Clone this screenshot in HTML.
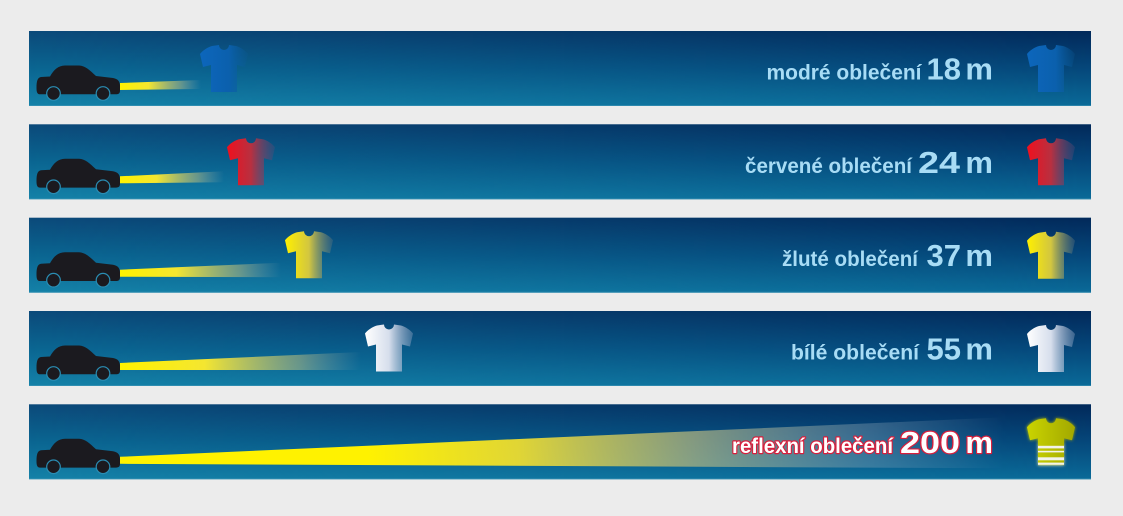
<!DOCTYPE html>
<html><head><meta charset="utf-8"><style>
html,body{margin:0;padding:0;background:#ececec;}
svg{display:block;}
text{font-family:"Liberation Sans",sans-serif;font-weight:bold;}
</style></head><body>
<svg width="1123" height="516" viewBox="0 0 1123 516" xmlns="http://www.w3.org/2000/svg">
<defs>
  <linearGradient id="bgL" x1="0" y1="0" x2="0" y2="1">
    <stop offset="0" stop-color="#0c4a7a"/>
    <stop offset="0.5" stop-color="#0b6692"/>
    <stop offset="1" stop-color="#1582a8"/>
  </linearGradient>
  <linearGradient id="bgR" x1="0" y1="0" x2="0" y2="1">
    <stop offset="0" stop-color="#02295a"/>
    <stop offset="0.5" stop-color="#05477a"/>
    <stop offset="1" stop-color="#0a6a98"/>
  </linearGradient>
  <linearGradient id="mk" x1="0" y1="0" x2="1" y2="0">
    <stop offset="0" stop-color="#fff" stop-opacity="0"/>
    <stop offset="1" stop-color="#fff" stop-opacity="1"/>
  </linearGradient>
  <mask id="hm" maskContentUnits="objectBoundingBox">
    <rect x="0" y="0" width="1" height="1" fill="url(#mk)"/>
  </mask>
  <g id="band">
    <rect x="0" y="0" width="1062" height="75" fill="url(#bgL)"/>
    <rect x="0" y="0" width="1062" height="75" fill="url(#bgR)" mask="url(#hm)"/>
    <rect x="0" y="74" width="1062" height="1" fill="#4a9cbc" opacity="0.5"/>
  </g>
  <g id="car">
    <path d="M7.5,57 C7.5,50 8.5,46.5 12,46 L21,45.5 C25,38.5 29,34.7 36,34.5 L50,34.5 C56,34.8 60,38.5 67,45 L84,47 C89.5,48 91,51 91,55 L91,59.5 C91,62 90,63.3 87,63.3 L11,63.3 C8.5,63.3 7.5,61.5 7.5,57 Z" fill="#1b1a1f"/>
    <circle cx="24.5" cy="62.5" r="6.8" fill="#1b1a1f" stroke="#2a8db3" stroke-width="1.2"/>
    <circle cx="74" cy="62.5" r="6.8" fill="#1b1a1f" stroke="#2a8db3" stroke-width="1.2"/>
  </g>
  <path id="shirt" d="M0,9 C2,6 8,2 12,1 L19,0 A5,5 0 0 0 29,0 L36,1 C40,2 46,6 48,9 L45,22 L37,20 L37,47 L11,47 L11,20 L3,22 Z"/>
  <linearGradient id="sBlue" x1="0" y1="0" x2="1" y2="0">
    <stop offset="0" stop-color="#0c66bc"/>
    <stop offset="0.6" stop-color="#0b60ad"/>
    <stop offset="1" stop-color="#0a5a98" stop-opacity="0.2"/>
  </linearGradient>
  <linearGradient id="sRed" x1="0" y1="0" x2="1" y2="0">
    <stop offset="0" stop-color="#f0101e"/>
    <stop offset="0.5" stop-color="#b83040"/>
    <stop offset="1" stop-color="#5a4a78" stop-opacity="0.3"/>
  </linearGradient>
  <linearGradient id="sYel" x1="0" y1="0" x2="1" y2="0">
    <stop offset="0" stop-color="#fff000"/>
    <stop offset="0.5" stop-color="#d2c640"/>
    <stop offset="1" stop-color="#6a7a80" stop-opacity="0.3"/>
  </linearGradient>
  <linearGradient id="sWht" x1="0" y1="0" x2="1" y2="0">
    <stop offset="0" stop-color="#ffffff"/>
    <stop offset="0.5" stop-color="#d6deec"/>
    <stop offset="1" stop-color="#8aa0c0" stop-opacity="0.4"/>
  </linearGradient>
  <linearGradient id="sRef" x1="0" y1="0" x2="1" y2="0">
    <stop offset="0" stop-color="#cad400"/>
    <stop offset="1" stop-color="#a2a800"/>
  </linearGradient>
  <linearGradient id="beamS" x1="0" y1="0" x2="1" y2="0">
    <stop offset="0" stop-color="#fff200"/>
    <stop offset="0.35" stop-color="#f4e630"/>
    <stop offset="0.75" stop-color="#c0c080" stop-opacity="0.5"/>
    <stop offset="1" stop-color="#a0b0b0" stop-opacity="0"/>
  </linearGradient>
  <linearGradient id="beamL" gradientUnits="userSpaceOnUse" x1="91" y1="0" x2="975" y2="0">
    <stop offset="0" stop-color="#fff200"/>
    <stop offset="0.28" stop-color="#fff200"/>
    <stop offset="0.45" stop-color="#ecdc30" stop-opacity="0.95"/>
    <stop offset="0.65" stop-color="#b8b880" stop-opacity="0.7"/>
    <stop offset="0.85" stop-color="#90a8b8" stop-opacity="0.35"/>
    <stop offset="1" stop-color="#80a0c0" stop-opacity="0"/>
  </linearGradient>
  <filter id="glow" x="-30%" y="-30%" width="160%" height="160%">
    <feGaussianBlur stdDeviation="1.5" result="b"/>
    <feMerge><feMergeNode in="b"/><feMergeNode in="SourceGraphic"/></feMerge>
  </filter>
</defs>

<rect width="1123" height="516" fill="#ececec"/>

<!-- Band 1 -->
<g transform="translate(29,31)">
  <use href="#band"/>
  <polygon points="91,52 91,59 172,58 172,49" fill="url(#beamS)"/>
  <use href="#car"/>
  <use href="#shirt" transform="translate(171,14)" fill="url(#sBlue)"/>
  <g fill="#a8dcf5">
    <text x="737.5" y="48.5" font-size="21.5" textLength="155" lengthAdjust="spacingAndGlyphs">modré oblečení</text>
    <text x="932" y="48.5" font-size="31" text-anchor="end">18</text>
    <text x="964" y="48.5" font-size="31" text-anchor="end">m</text>
  </g>
  <use href="#shirt" transform="translate(998,14)" fill="url(#sBlue)"/>
</g>

<!-- Band 2 -->
<g transform="translate(29,124.3)">
  <use href="#band"/>
  <polygon points="91,52 91,59 195,58 195,47" fill="url(#beamS)"/>
  <use href="#car"/>
  <use href="#shirt" transform="translate(198,14)" fill="url(#sRed)"/>
  <g fill="#a8dcf5">
    <text x="716" y="48.5" font-size="21.5" textLength="167" lengthAdjust="spacingAndGlyphs">červené oblečení</text>
    <text x="889" y="48.5" font-size="31" textLength="42" lengthAdjust="spacingAndGlyphs">24</text>
    <text x="964" y="48.5" font-size="31" text-anchor="end">m</text>
  </g>
  <use href="#shirt" transform="translate(998,14)" fill="url(#sRed)"/>
</g>

<!-- Band 3 -->
<g transform="translate(29,217.7)">
  <use href="#band"/>
  <polygon points="91,52 91,59 252,59.5 252,45" fill="url(#beamS)"/>
  <use href="#car"/>
  <use href="#shirt" transform="translate(256,13.5)" fill="url(#sYel)"/>
  <g fill="#a8dcf5">
    <text x="753" y="48.5" font-size="21.5" textLength="136" lengthAdjust="spacingAndGlyphs">žluté oblečení</text>
    <text x="932" y="48.5" font-size="31" text-anchor="end">37</text>
    <text x="964" y="48.5" font-size="31" text-anchor="end">m</text>
  </g>
  <use href="#shirt" transform="translate(998,14)" fill="url(#sYel)"/>
</g>

<!-- Band 4 -->
<g transform="translate(29,311)">
  <use href="#band"/>
  <polygon points="91,52 91,59 332,59 332,41" fill="url(#beamS)"/>
  <use href="#car"/>
  <use href="#shirt" transform="translate(336,13.5)" fill="url(#sWht)"/>
  <g fill="#a8dcf5">
    <text x="762" y="48.5" font-size="21.5" textLength="128" lengthAdjust="spacingAndGlyphs">bílé oblečení</text>
    <text x="932" y="48.5" font-size="31" text-anchor="end">55</text>
    <text x="964" y="48.5" font-size="31" text-anchor="end">m</text>
  </g>
  <use href="#shirt" transform="translate(998,14)" fill="url(#sWht)"/>
</g>

<!-- Band 5 -->
<g transform="translate(29,404.3)">
  <use href="#band"/>
  <polygon points="91,52.5 91,59.5 975,64 975,13" fill="url(#beamL)"/>
  <use href="#car"/>
  <g fill="#ffffff" stroke="#d81e3c" stroke-width="2.4" paint-order="stroke" stroke-linejoin="round">
    <text x="703" y="48.5" font-size="21.5" textLength="161" lengthAdjust="spacingAndGlyphs">reflexní oblečení</text>
    <text x="871" y="48.5" font-size="31" textLength="60" lengthAdjust="spacingAndGlyphs">200</text>
    <text x="964" y="48.5" font-size="31" text-anchor="end">m</text>
  </g>
  <g transform="translate(998,14)" filter="url(#glow)">
    <use href="#shirt" fill="url(#sRef)"/>
    <rect x="11" y="27.5" width="26" height="2.6" fill="#f2f2ea"/>
    <rect x="11" y="32.5" width="26" height="1.6" fill="#f2f2ea"/>
    <rect x="11" y="39" width="26" height="3" fill="#f2f2ea"/>
    <rect x="11" y="44.3" width="26" height="2.2" fill="#f2f2ea"/>
  </g>
</g>
</svg>
</body></html>
